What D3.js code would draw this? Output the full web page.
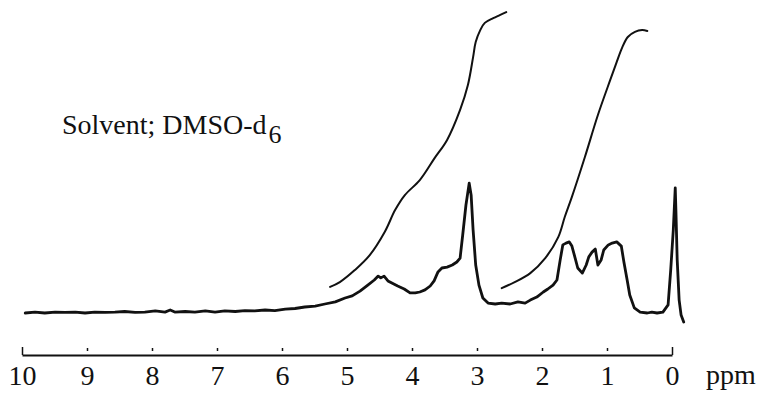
<!DOCTYPE html>
<html>
<head>
<meta charset="utf-8">
<script src="https://cdn.jsdelivr.net/npm/d3@7/dist/d3.min.js"></script>
<style>
html,body{margin:0;padding:0;background:#fff;}
svg{display:block;}
</style>
</head>
<body>
<svg id="chart" width="761" height="394"></svg>
<script>
// ---- data ----
const tickValues = [10,9,8,7,6,5,4,3,2,1,0];
const axisUnit = "ppm";
const solventLabel = "Solvent; DMSO-d";
const solventSub = "6";

// spectrum: chemical shift (ppm) and intensity (arbitrary units)
const specPpm = [9.95,9.80,9.65,9.49,9.34,9.18,9.03,8.88,8.72,8.57,8.42,8.26,8.11,7.95,7.80,7.72,7.65,7.49,7.34,7.18,7.03,6.88,6.72,6.57,6.42,6.26,6.11,5.95,5.80,5.65,5.49,5.34,5.18,5.03,4.92,4.80,4.68,4.58,4.52,4.48,4.43,4.37,4.31,4.22,4.12,4.03,3.95,3.88,3.80,3.72,3.66,3.60,3.54,3.46,3.38,3.31,3.26,3.22,3.17,3.12,3.09,3.06,3.02,2.97,2.91,2.83,2.72,2.62,2.49,2.37,2.26,2.18,2.08,1.98,1.91,1.83,1.77,1.72,1.68,1.63,1.58,1.54,1.49,1.45,1.38,1.32,1.28,1.23,1.18,1.14,1.09,1.05,0.98,0.92,0.85,0.78,0.74,0.69,0.65,0.58,0.49,0.38,0.31,0.23,0.14,0.06,0.02,-0.02,-0.05,-0.06,-0.08,-0.11,-0.14,-0.18];
const specInt = [0,0.3,0,0.3,0.2,0.3,0,0.3,0.2,0.3,0.5,0.2,0.3,0.7,0.3,1.0,0.3,0.5,0.3,0.7,0.3,0.7,0.5,0.8,0.7,1.0,0.8,1.3,1.5,2.0,2.3,3.0,3.7,5.0,5.7,7.3,9.3,11.0,12.3,11.7,12.3,10.7,10.0,9.0,8.0,6.7,6.7,7.0,7.7,9.0,10.7,13.7,15.0,15.3,16.0,17.0,18.3,26.0,36.0,43.3,39.3,27.7,16.0,9.3,5.0,3.3,3.0,3.3,3.0,3.7,3.3,4.3,5.3,7.0,8.0,9.3,11.0,17.7,22.7,23.3,23.7,22.3,18.3,15.0,13.3,16.0,18.7,20.3,21.3,16.0,17.7,21.0,22.7,23.3,23.7,22.3,17.0,11.0,6.0,1.7,0.3,0,0.3,0,0.3,2.7,14.3,27.7,41.7,34.3,17.7,4.3,-0.7,-3.0];

// integral traces
const integ1Ppm = [5.26,5.11,4.88,4.65,4.42,4.26,4.11,3.88,3.65,3.46,3.26,3.14,3.06,3.02,2.95,2.88,2.75,2.65,2.55];
const integ1Val = [8.7,10.3,14.3,19.3,27.0,34.3,39.3,44.3,51.7,57.7,67.7,76.0,85.3,90.3,94.3,96.7,98.3,99.3,100.3];
const integ2Ppm = [2.62,2.42,2.18,1.95,1.75,1.65,1.54,1.34,1.14,0.95,0.85,0.77,0.68,0.57,0.46,0.38];
const integ2Val = [8.3,10.3,13.3,18.3,25.3,32.0,38.7,52.0,66.0,77.7,83.7,88.3,92.0,93.7,94.3,94.0];

// ---- drawing ----
const svg = d3.select("#chart");
const x = d3.scaleLinear().domain([10,0]).range([22,672]);
const y = d3.scaleLinear().domain([0,100]).range([313,13]);
const FONT = "'Liberation Serif', 'DejaVu Serif', serif";

const line = d3.line().x(d=>x(d[0])).y(d=>y(d[1])).curve(d3.curveLinear);
const smooth = d3.line().x(d=>x(d[0])).y(d=>y(d[1])).curve(d3.curveCatmullRom);

svg.append("path")
  .datum(specPpm.map((p,i)=>[p,specInt[i]]))
  .attr("d", line)
  .attr("fill","none").attr("stroke","#111").attr("stroke-width",2.8)
  .attr("stroke-linejoin","round").attr("stroke-linecap","round");

[[integ1Ppm,integ1Val],[integ2Ppm,integ2Val]].forEach(([pp,vv])=>{
  svg.append("path")
    .datum(pp.map((p,i)=>[p,vv[i]]))
    .attr("d", smooth)
    .attr("fill","none").attr("stroke","#111").attr("stroke-width",2)
    .attr("stroke-linecap","round");
});

// axis
const axis = d3.axisBottom(x).tickValues(tickValues).tickFormat(d3.format("d"))
  .tickSize(-4).tickSizeOuter(0).tickPadding(10);
const gAx = svg.append("g").attr("transform","translate(0,355)").call(axis);
gAx.select(".domain").attr("stroke","#111").attr("stroke-width",2);
gAx.selectAll(".tick line").attr("stroke","#111").attr("stroke-width",1.5)
  .attr("y1", d => (d===10||d===0) ? 0 : -4)
  .attr("y2", d => (d===10||d===0) ? -8 : -7);
gAx.selectAll(".tick text")
  .attr("fill","#111")
  .style("font-family",FONT)
  .style("font-size","28px");

svg.append("text")
  .attr("x", 731).attr("y", 384)
  .attr("text-anchor","middle")
  .style("font-family",FONT)
  .style("font-size","28px").attr("fill","#111")
  .text(axisUnit);

const lab = svg.append("text")
  .attr("x", 62).attr("y", 134)
  .style("font-family",FONT)
  .style("font-size","28px").attr("fill","#111");
lab.append("tspan").text(solventLabel);
lab.append("tspan").attr("dx", 2).attr("dy", 9).style("font-size","26px").text(solventSub);
</script>
</body>
</html>
